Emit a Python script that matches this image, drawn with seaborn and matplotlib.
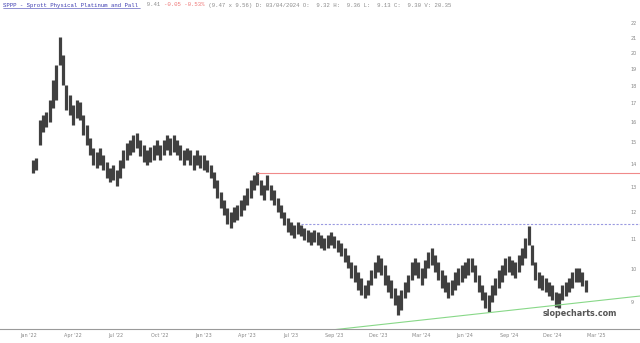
import matplotlib
matplotlib.use("Agg")
import matplotlib.pyplot as plt
import numpy as np
import pandas as pd
import seaborn as sns
from matplotlib.lines import Line2D
from matplotlib.ticker import FixedLocator, FixedFormatter, NullLocator

# weekly high / low (week 0 = first week of Jan 2022)
week_high = [
    14.18, 14.27, 16.12, 16.38, 16.55, 17.19, 18.33, 19.23, 21.03, 19.86,
    18.04, 17.47, 16.92, 17.19, 17.08, 16.38, 15.86, 15.22, 14.74, 14.55,
    14.74, 14.41, 14.09, 13.82, 13.96, 13.73, 14.18, 14.64, 14.98, 15.12,
    15.37, 15.46, 15.12, 14.88, 14.64, 14.78, 14.88, 15.12, 14.88, 15.12,
    15.37, 15.22, 15.37, 15.12, 14.88, 14.64, 14.74, 14.64, 14.41, 14.64,
    14.41, 14.41, 14.18, 13.96, 13.64, 13.30, 12.80, 12.48, 12.16, 12.00,
    12.20, 12.28, 12.48, 12.68, 12.96, 13.30, 13.52, 13.64, 13.30, 13.09,
    13.52, 13.09, 12.88, 12.56, 12.28, 12.00, 11.77, 11.63, 11.52, 11.63,
    11.52, 11.40, 11.33, 11.26, 11.33, 11.26, 11.15, 11.04, 11.15, 11.26,
    11.11, 10.97, 10.87, 10.70, 10.46, 10.22, 10.13, 9.91, 9.71, 9.50,
    9.65, 9.97, 10.22, 10.46, 10.36, 10.13, 9.81, 9.65, 9.41, 9.20,
    9.35, 9.59, 9.81, 10.22, 10.36, 10.22, 10.03, 10.29, 10.56, 10.70,
    10.46, 10.22, 9.97, 9.81, 9.59, 9.65, 9.91, 10.03, 10.13, 10.22,
    10.36, 10.36, 10.13, 9.81, 9.50, 9.29, 9.20, 9.50, 9.71, 9.97,
    10.13, 10.36, 10.42, 10.29, 10.22, 10.46, 10.70, 11.04, 11.48, 10.80,
    10.22, 9.91, 9.81, 9.71, 9.59, 9.50, 9.29, 9.26, 9.50, 9.59,
    9.71, 9.91, 10.03, 10.03, 9.91, 9.65,
]
week_low = [
    13.61, 13.73, 14.88, 15.50, 15.76, 16.02, 16.76, 17.19, 19.23, 18.04,
    16.65, 16.38, 15.86, 16.22, 16.12, 15.37, 14.88, 14.41, 13.96, 13.82,
    13.96, 13.73, 13.39, 13.22, 13.30, 13.05, 13.39, 13.82, 14.18, 14.41,
    14.55, 14.74, 14.36, 14.09, 13.96, 14.09, 14.18, 14.41, 14.18, 14.41,
    14.64, 14.41, 14.55, 14.41, 14.18, 13.96, 14.18, 13.96, 13.73, 13.96,
    13.82, 13.73, 13.64, 13.39, 12.96, 12.56, 12.16, 11.89, 11.55, 11.40,
    11.63, 11.70, 11.85, 12.08, 12.28, 12.56, 12.88, 13.09, 12.68, 12.48,
    12.88, 12.48, 12.28, 12.00, 11.77, 11.52, 11.26, 11.15, 11.04, 11.19,
    11.11, 10.97, 10.90, 10.80, 10.90, 10.80, 10.70, 10.63, 10.70, 10.80,
    10.70, 10.56, 10.42, 10.22, 10.03, 9.71, 9.59, 9.35, 9.20, 9.11,
    9.20, 9.50, 9.71, 9.91, 9.81, 9.50, 9.29, 9.11, 8.91, 8.63,
    8.77, 9.11, 9.29, 9.65, 9.81, 9.71, 9.50, 9.71, 10.03, 10.13,
    9.91, 9.65, 9.41, 9.29, 9.11, 9.20, 9.35, 9.50, 9.59, 9.71,
    9.81, 9.91, 9.59, 9.29, 9.05, 8.83, 8.71, 9.00, 9.20, 9.41,
    9.59, 9.81, 9.91, 9.81, 9.71, 9.91, 10.13, 10.36, 10.80, 10.13,
    9.65, 9.41, 9.35, 9.29, 9.17, 9.05, 8.86, 8.83, 9.05, 9.17,
    9.29, 9.41, 9.59, 9.59, 9.47, 9.29,
]

date_labels = ["Jan '22", "Apr '22", "Jul '22", "Oct '22", "Jan '23", "Apr '23", "Jul '23",
               "Sep '23", "Dec '23", "Mar '24", "Jun '24", "Sep '24", "Dec '24", "Mar '25"]
price_ticks = [9, 10, 11, 12, 13, 14, 15, 16, 17, 18, 19, 20, 21, 22]

# drawn levels
red_level = 13.6
red_from_week = 67
blue_level = 11.55
blue_from_week = 80
trend_weeks = [88.7, 181.2]
trend_prices = [8.22, 9.17]

header_parts = [
    ("SPPP - Sprott Physical Platinum and Pall", "#3b3bb0"),
    ("  9.41 ", "#8a8a8a"),
    ("-0.05 -0.53%", "#ee7777"),
    (" (9.47 x 9.56) D: 03/04/2024 O:  9.32 H:  9.36 L:  9.13 C:  9.30 V: 20.35", "#8a8a8a"),
]

df = pd.DataFrame({"week": np.arange(len(week_high)), "high": week_high, "low": week_low})

sns.set_theme(style="white")
plt.rcParams["font.family"] = ["DejaVu Sans"]

fig = plt.figure(figsize=(6.4, 3.43), dpi=100)
ax = fig.add_axes([0, 14 / 343, 1, 1 - 26 / 343])

ax.vlines(df["week"], df["low"], df["high"], color="#404040", lw=2.3)

# horizontal levels and trendline
ax.hlines(red_level, red_from_week, 190, color="#f08a8a", lw=0.8)
ax.hlines(blue_level, blue_from_week, 190, color="#9a9ae0", lw=0.8, linestyles=(0, (2, 1.5)))
sns.lineplot(x=trend_weeks, y=trend_prices, color="#88d888", lw=0.8, ax=ax)

ax.set_yscale("log")
ax.set_ylim(8.25, 22.79)
ax.set_xlim(-9.85, 181.2)

ax.yaxis.tick_right()
ax.yaxis.set_major_locator(FixedLocator(price_ticks))
ax.yaxis.set_major_formatter(FixedFormatter([str(p) for p in price_ticks]))
ax.yaxis.set_minor_locator(NullLocator())
ax.tick_params(axis="y", length=0, labelsize=3.5, labelcolor="#888888", pad=-7)

tick_pos = [-1.2 + 13.02 * i for i in range(len(date_labels))]
ax.set_xticks(tick_pos)
ax.set_xticklabels(date_labels)
ax.tick_params(axis="x", length=0, labelsize=3.5, labelcolor="#888888", pad=3)

for side in ["top", "left", "right"]:
    ax.spines[side].set_visible(False)
ax.spines["bottom"].set_color("#9a9a9a")
ax.spines["bottom"].set_linewidth(0.8)
ax.set_xlabel("")
ax.set_ylabel("")

ax.text(0.906, 0.05, "slopecharts.com", transform=ax.transAxes, ha="center", va="center",
        fontsize=5.8, fontweight="bold", color="#555555")

# header line in a monospaced font, coloured piece by piece
fs = 4.1
char_w = 0.6 * fs * 100 / 72 / 640
x0 = 3 / 640
y0 = 1 - 5 / 343
pos = 0
for txt, col in header_parts:
    fig.text(x0 + pos * char_w, y0, txt, fontsize=fs, color=col, family="Liberation Mono",
             ha="left", va="center")
    pos += len(txt)
first_len = len(header_parts[0][0])
fig.add_artist(Line2D([x0, x0 + first_len * char_w], [y0 - 3 / 343, y0 - 3 / 343],
                      color="#3b3bb0", lw=0.4, transform=fig.transFigure))

fig.savefig("out.png", dpi=100)
